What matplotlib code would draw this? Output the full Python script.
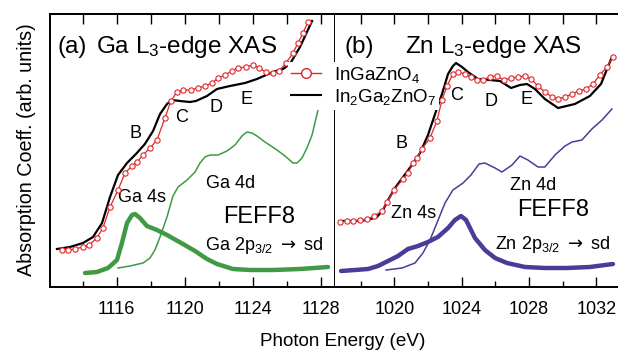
import matplotlib
matplotlib.use('Agg')
import matplotlib.pyplot as plt
from matplotlib.lines import Line2D
from matplotlib.ticker import MultipleLocator

plt.rcParams['font.family'] = ['Liberation Sans', 'DejaVu Sans']
plt.rcParams['mathtext.fontset'] = 'custom'
plt.rcParams['mathtext.rm'] = 'Liberation Sans'
plt.rcParams['mathtext.it'] = 'Liberation Sans:italic'
plt.rcParams['mathtext.bf'] = 'Liberation Sans:bold'
plt.rcParams['mathtext.sf'] = 'DejaVu Sans'
plt.rcParams['mathtext.fallback'] = 'stixsans'

# ---------------- data: Ga L3-edge (panel a) ----------------
ga_black_e = [1112.49, 1113.25, 1114.02, 1114.61, 1115.14, 1115.61, 1116.08, 1116.61, 1117.19,
              1117.66, 1118.14, 1118.55, 1118.96, 1119.25, 1119.72, 1120.31, 1120.66, 1121.31,
              1121.90, 1122.66, 1123.55, 1124.25, 1125.19, 1125.78, 1126.19, 1126.78, 1127.49]
ga_black_y = [0.38, 0.40, 0.44, 0.50, 0.64, 0.90, 1.12, 1.24, 1.34,
              1.43, 1.56, 1.73, 1.83, 1.87, 1.86, 1.85, 1.86, 1.91,
              1.98, 2.01, 2.04, 2.08, 2.15, 2.18, 2.23, 2.40, 2.66]

ga_red_e = [1112.78, 1113.14, 1113.55, 1114.02, 1114.37, 1114.84, 1115.19, 1115.61, 1116.08,
            1116.49, 1116.90, 1117.19, 1117.55, 1117.96, 1118.37, 1118.84, 1119.19, 1119.55,
            1119.90, 1120.37, 1120.78, 1121.19, 1121.61, 1121.96, 1122.37, 1122.78, 1123.14,
            1123.61, 1124.02, 1124.37, 1124.78, 1125.19, 1125.55, 1125.96, 1126.37, 1126.66,
            1126.96, 1127.25]
ga_red_y = [0.37, 0.37, 0.38, 0.40, 0.42, 0.49, 0.59, 0.80, 0.97,
            1.14, 1.21, 1.25, 1.32, 1.39, 1.47, 1.69, 1.86, 1.95,
            1.97, 1.97, 1.99, 2.01, 2.04, 2.09, 2.12, 2.16, 2.19,
            2.20, 2.22, 2.19, 2.15, 2.14, 2.16, 2.24, 2.34, 2.44,
            2.54, 2.65]

ga_4s_e = [1114.14, 1114.84, 1115.49, 1116.02, 1116.31, 1116.61, 1116.90, 1117.08, 1117.37,
           1117.78, 1118.37, 1118.96, 1119.90, 1120.61, 1121.31, 1121.90, 1122.84, 1123.84,
           1125.19, 1126.78, 1128.43]
ga_4s_y = [0.14, 0.15, 0.19, 0.27, 0.44, 0.64, 0.72, 0.73, 0.69,
           0.61, 0.57, 0.52, 0.43, 0.36, 0.28, 0.23, 0.18, 0.17,
           0.17, 0.18, 0.20]

ga_4d_e = [1116.08, 1116.78, 1117.55, 1117.96, 1118.25, 1118.55, 1118.96, 1119.31, 1119.61,
           1120.14, 1120.61, 1120.90, 1121.19, 1121.49, 1121.96, 1122.49, 1122.96, 1123.37,
           1123.66, 1123.96, 1124.25, 1124.72, 1125.43, 1125.90, 1126.37, 1126.61, 1126.90,
           1127.19, 1127.49, 1127.84]
ga_4d_y = [0.19, 0.21, 0.24, 0.29, 0.37, 0.50, 0.70, 0.91, 1.00,
           1.07, 1.15, 1.24, 1.30, 1.32, 1.32, 1.36, 1.42, 1.51,
           1.55, 1.54, 1.51, 1.45, 1.37, 1.31, 1.24, 1.24, 1.29,
           1.39, 1.52, 1.77]

# ---------------- data: Zn L3-edge (panel b) ----------------
zn_black_e = [1016.90, 1017.67, 1018.44, 1018.97, 1019.33, 1019.63, 1020.04, 1020.52, 1021.05,
              1021.53, 1022.00, 1022.42, 1022.83, 1023.19, 1023.48, 1023.66, 1024.02, 1024.37,
              1024.97, 1025.68, 1026.27, 1026.93, 1027.46, 1027.88, 1028.35, 1028.94, 1029.72,
              1030.72, 1031.61, 1032.27, 1032.92]
zn_black_y = [0.66, 0.66, 0.67, 0.70, 0.77, 0.87, 0.99, 1.10, 1.22,
              1.34, 1.52, 1.73, 1.93, 2.13, 2.21, 2.24, 2.20, 2.15,
              2.08, 2.07, 2.06, 1.99, 2.02, 2.03, 1.98, 1.88, 1.79,
              1.83, 1.91, 2.03, 2.30]

zn_red_e = [1016.78, 1017.19, 1017.55, 1017.96, 1018.38, 1018.80, 1019.27, 1019.57, 1019.98,
            1020.52, 1020.81, 1021.11, 1021.35, 1021.64, 1022.12, 1022.53, 1022.83, 1023.13,
            1023.48, 1023.78, 1024.20, 1024.55, 1024.91, 1025.26, 1025.68, 1026.09, 1026.51,
            1026.93, 1027.34, 1027.76, 1028.11, 1028.53, 1028.94, 1029.36, 1029.72, 1030.13,
            1030.55, 1030.96, 1031.38, 1031.79, 1032.21, 1032.62, 1032.98]
zn_red_y = [0.65, 0.66, 0.66, 0.67, 0.68, 0.71, 0.76, 0.85, 0.97,
            1.08, 1.14, 1.24, 1.29, 1.38, 1.49, 1.66, 1.87, 2.01,
            2.13, 2.15, 2.13, 2.10, 2.07, 2.07, 2.10, 2.11, 2.07,
            2.09, 2.10, 2.11, 2.08, 2.01, 1.95, 1.90, 1.88, 1.90,
            1.93, 1.96, 1.98, 2.03, 2.12, 2.20, 2.30]

zn_4s_e = [1016.84, 1017.67, 1018.44, 1019.03, 1019.63, 1020.22, 1020.81, 1021.41, 1022.00,
           1022.59, 1023.19, 1023.60, 1023.96, 1024.26, 1024.79, 1025.38, 1025.98, 1026.69,
           1027.76, 1028.94, 1030.25, 1031.61, 1032.98]
zn_4s_y = [0.16, 0.17, 0.18, 0.21, 0.26, 0.31, 0.38, 0.41, 0.45,
           0.50, 0.59, 0.67, 0.71, 0.67, 0.49, 0.37, 0.29, 0.24,
           0.20, 0.19, 0.19, 0.20, 0.23]

zn_4d_e = [1019.51, 1020.46, 1021.23, 1021.70, 1022.12, 1022.53, 1023.01, 1023.48, 1024.08,
           1024.55, 1025.03, 1025.38, 1025.98, 1026.39, 1026.99, 1027.46, 1027.93, 1028.53,
           1028.94, 1029.54, 1030.13, 1030.55, 1031.14, 1031.73, 1032.33, 1032.92]
zn_4d_y = [0.17, 0.19, 0.24, 0.34, 0.47, 0.64, 0.84, 0.97, 1.04,
           1.12, 1.23, 1.24, 1.19, 1.15, 1.22, 1.31, 1.27, 1.20,
           1.20, 1.32, 1.41, 1.45, 1.47, 1.58, 1.67, 1.78]

legend_labels = ['InGaZnO$_4$', 'In$_2$Ga$_2$ZnO$_7$']
xlabel = 'Photon Energy (eV)'
ylabel = 'Absorption Coeff. (arb. units)'

RED = '#e0262a'
GREEN = '#3f9a43'
PURPLE = '#4a3c98'

W, H = 618, 353
fig = plt.figure(figsize=(W / 100, H / 100), dpi=100)
axL = fig.add_axes([50 / W, 66 / H, 285 / W, 273 / H])
axR = fig.add_axes([335 / W, 66 / H, 283 / W, 273 / H])


def style(ax, xlim):
    ax.set_xlim(*xlim)
    ax.set_ylim(0, 2.73)
    ax.set_yticks([])
    ax.xaxis.set_major_locator(MultipleLocator(4))
    ax.xaxis.set_minor_locator(MultipleLocator(2))
    ax.tick_params(axis='x', which='major', direction='in', length=7.5, width=1.0,
                   labelsize=13, pad=10, top=False)
    ax.tick_params(axis='x', which='minor', direction='in', length=4.3, width=1.0, top=False)
    for s in ax.spines.values():
        s.set_linewidth(1.4)
    sec = ax.secondary_xaxis('top')
    sec.xaxis.set_major_locator(MultipleLocator(2))
    sec.tick_params(direction='in', length=7.5, width=1.0, labeltop=False)
    sec.spines['top'].set_linewidth(1.4)


style(axL, (1112.08, 1128.84))
style(axR, (1016.48, 1033.28))
axR.spines['right'].set_visible(False)
axR.spines['left'].set_visible(False)

# panel a
axL.plot(ga_4s_e, ga_4s_y, color=GREEN, lw=3.2, solid_capstyle='round', solid_joinstyle='round')
axL.plot(ga_4d_e, ga_4d_y, color=GREEN, lw=1.1, solid_joinstyle='round')
axL.plot(ga_black_e, ga_black_y, color='black', lw=1.6, solid_joinstyle='round', zorder=3)
axL.plot(ga_red_e, ga_red_y, color=RED, lw=0.9, marker='o', ms=3.8, mfc='white',
         mec=RED, mew=0.8, zorder=4)

# panel b
axR.plot(zn_4s_e, zn_4s_y, color=PURPLE, lw=3.2, solid_capstyle='round', solid_joinstyle='round')
axR.plot(zn_4d_e, zn_4d_y, color=PURPLE, lw=1.1, solid_joinstyle='round')
axR.plot(zn_black_e, zn_black_y, color='black', lw=1.6, solid_joinstyle='round', zorder=3)
axR.plot(zn_red_e, zn_red_y, color=RED, lw=0.9, marker='o', ms=3.8, mfc='white',
         mec=RED, mew=0.8, zorder=4)

# titles
axL.text(0.025, 0.856, '(a)', transform=axL.transAxes, fontsize=17.5, va='baseline')
axL.text(0.161, 0.856, 'Ga L$_3$-edge XAS', transform=axL.transAxes, fontsize=17.5, va='baseline')
axR.text(0.035, 0.856, '(b)', transform=axR.transAxes, fontsize=17.5, va='baseline')
axR.text(0.247, 0.856, 'Zn L$_3$-edge XAS', transform=axR.transAxes, fontsize=17.5, va='baseline')

# feature labels
for ax, pts in ((axL, [('B', 1117.08, 1.54), ('C', 1119.84, 1.70), ('D', 1121.84, 1.79),
                       ('E', 1123.66, 1.87)]),
                (axR, [('B', 1020.44, 1.44), ('C', 1023.70, 1.92), ('D', 1025.74, 1.85),
                       ('E', 1027.82, 1.87)])):
    for t, x, y in pts:
        ax.text(x, y, t, fontsize=13, ha='center', va='center')

axL.text(1117.49, 0.90, 'Ga 4s', fontsize=13, ha='center', va='center')
axL.text(1122.69, 1.04, 'Ga 4d', fontsize=13, ha='center', va='center')
axL.text(1124.40, 0.70, 'FEFF8', fontsize=17, ha='center', va='center')
axL.text(1124.66, 0.37, 'Ga 2p$_{3/2}$ $\\mathsf{\\rightarrow}$ sd', fontsize=13,
         ha='center', va='baseline')

axR.text(1021.13, 0.74, 'Zn 4s', fontsize=13, ha='center', va='center')
axR.text(1028.25, 1.01, 'Zn 4d', fontsize=13, ha='center', va='center')
axR.text(1029.42, 0.77, 'FEFF8', fontsize=17, ha='center', va='center')
axR.text(1029.42, 0.38, 'Zn 2p$_{3/2}$ $\\mathsf{\\rightarrow}$ sd', fontsize=13,
         ha='center', va='baseline')

# legend
h1 = Line2D([], [], color=RED, lw=1.0, marker='o', ms=7, mfc='white', mec=RED, mew=1.0)
h2 = Line2D([], [], color='black', lw=1.5)
fig.legend([h1, h2], legend_labels, loc='upper left', bbox_to_anchor=(288 / W, 1 - 62 / H),
           frameon=True, facecolor='white', edgecolor='none', framealpha=1, fancybox=False,
           fontsize=13.5, handlelength=1.6, handletextpad=0.7, labelspacing=0.1,
           borderpad=0.15, borderaxespad=0)

fig.text(343 / W, 1 - 342 / H, xlabel, fontsize=13.6, ha='center', va='center')
fig.text(27 / W, 1 - 150 / H, ylabel, fontsize=14.2, ha='center', va='center', rotation=90)

fig.savefig('out.png', dpi=100)
